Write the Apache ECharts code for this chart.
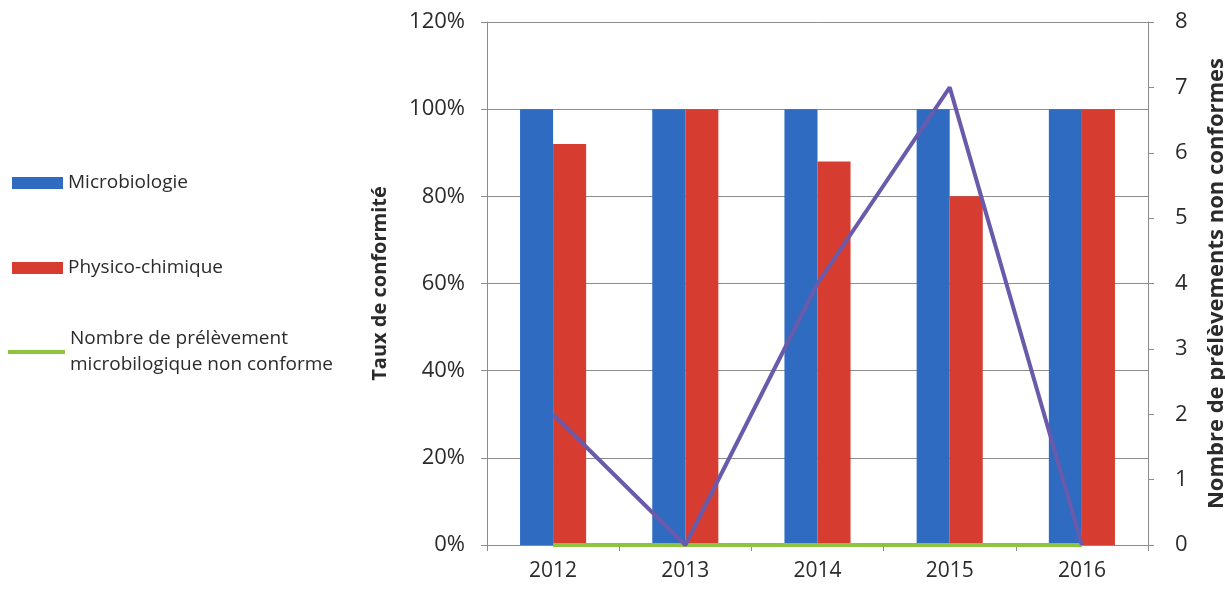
<!DOCTYPE html>
<html>
<head>
<meta charset="utf-8">
<script src="https://cdn.jsdelivr.net/npm/echarts@6/dist/echarts.min.js"></script>
<style>
  html, body { margin: 0; padding: 0; background: #fff; }
  #chart { width: 1225px; height: 590px; }
</style>
</head>
<body>
<div id="chart"></div>
<script>
// Years on the category axis
const years = ['2012', '2013', '2014', '2015', '2016'];
// Compliance rates (%)
const microbiologie = [100, 100, 100, 100, 100];
const physicoChimique = [92, 100, 88, 80, 100];
// Number of non-compliant samples
const nonConformeMicro = [0, 0, 0, 0, 0];
const nonConformePhysico = [2, 0, 4, 7, 0];
// Axis tick settings
const rateTicks = { min: 0, max: 120, interval: 20 };
const countTicks = { min: 0, max: 8, interval: 1 };

const FONT = 'Open Sans';
const TEXT = '#2b2b2b';
const AXIS = '#8c8c8c';

const chart = echarts.init(document.getElementById('chart'));

chart.setOption({
  animation: false,
  backgroundColor: '#fff',
  textStyle: { fontFamily: FONT },
  grid: { left: 487, right: 77, top: 22, bottom: 45, containLabel: false, outerBoundsMode: 'none' },
  legend: [
    {
      data: ['Microbiologie', 'Physico-chimique'],
      orient: 'vertical',
      left: 12,
      top: 171,
      padding: 0,
      itemWidth: 51,
      itemHeight: 12,
      itemGap: 61,
      icon: 'rect',
      selectedMode: false,
      textStyle: { fontFamily: FONT, fontSize: 19, lineHeight: 24, color: TEXT }
    },
    {
      data: ['Nombre de prélèvement microbilogique non conforme'],
      orient: 'vertical',
      left: 8,
      top: 313,
      padding: 0,
      itemWidth: 57,
      itemHeight: 4,
      icon: 'rect',
      selectedMode: false,
      formatter: () => 'Nombre de prélèvement\nmicrobilogique non conforme',
      textStyle: { fontFamily: FONT, fontSize: 19, color: TEXT, lineHeight: 26, padding: [26, 0, 0, 0] }
    }
  ],
  xAxis: {
    type: 'category',
    data: years,
    axisLine: { lineStyle: { color: AXIS, width: 1 } },
    axisTick: { show: true, length: 6, lineStyle: { color: AXIS } },
    axisLabel: { fontFamily: FONT, fontSize: 21, color: TEXT, margin: 16 }
  },
  yAxis: [
    {
      type: 'value',
      min: rateTicks.min,
      max: rateTicks.max,
      interval: rateTicks.interval,
      name: 'Taux de conformité',
      nameLocation: 'middle',
      nameRotate: 90,
      nameGap: 97,
      nameTextStyle: { fontFamily: FONT, fontSize: 20, fontWeight: 'bold', color: TEXT },
      axisLine: { show: true, lineStyle: { color: AXIS } },
      axisTick: { show: true, length: 6, lineStyle: { color: AXIS } },
      axisLabel: { fontFamily: FONT, fontSize: 22, color: TEXT, margin: 22, formatter: '{value}%' },
      splitLine: { show: true, lineStyle: { color: AXIS, width: 1 } }
    },
    {
      type: 'value',
      position: 'right',
      min: countTicks.min,
      max: countTicks.max,
      interval: countTicks.interval,
      name: 'Nombre de prélèvements non conformes',
      nameLocation: 'middle',
      nameRotate: 90,
      nameGap: 58,
      nameTextStyle: { fontFamily: FONT, fontSize: 22, fontWeight: 'bold', color: TEXT },
      axisLine: { show: true, lineStyle: { color: AXIS } },
      axisTick: { show: true, length: 6, lineStyle: { color: AXIS } },
      axisLabel: { fontFamily: FONT, fontSize: 22, color: TEXT, margin: 27 },
      splitLine: { show: false }
    }
  ],
  series: [
    {
      name: 'Microbiologie',
      type: 'bar',
      yAxisIndex: 0,
      data: microbiologie,
      barGap: '0%',
      barCategoryGap: '50%',
      itemStyle: { color: '#2f6bc0' }
    },
    {
      name: 'Physico-chimique',
      type: 'bar',
      yAxisIndex: 0,
      data: physicoChimique,
      itemStyle: { color: '#d63d30' }
    },
    {
      name: 'Nombre de prélèvement microbilogique non conforme',
      type: 'line',
      yAxisIndex: 1,
      data: nonConformeMicro,
      symbol: 'none',
      lineStyle: { color: '#8cc43f', width: 4 },
      itemStyle: { color: '#8cc43f' },
      z: 3
    },
    {
      name: 'Prélèvements physico-chimiques non conformes',
      type: 'line',
      yAxisIndex: 1,
      data: nonConformePhysico,
      symbol: 'none',
      lineStyle: { color: '#6a5aab', width: 4 },
      itemStyle: { color: '#6a5aab' },
      z: 4
    }
  ]
});
</script>
</body>
</html>
